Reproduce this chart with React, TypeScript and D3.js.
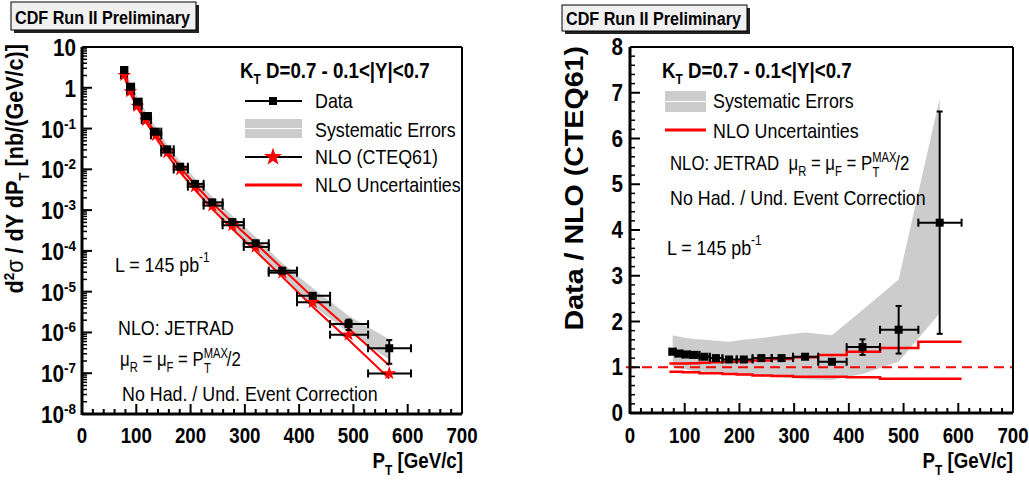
import React from 'react';
import * as d3 from 'd3';

// ---------------- data ----------------
const ptCenter = [78, 89, 102, 118, 136, 157, 181, 208, 240, 277, 320, 369, 425, 491, 566];
const ptLow = [72, 83, 96, 110, 127, 146, 169, 195, 224, 259, 298, 344, 396, 457, 527];
const ptHigh = [83, 96, 110, 127, 146, 169, 195, 224, 259, 298, 344, 396, 457, 527, 606];
const xsecData = [2.73, 1.06, 0.456, 0.203, 0.084, 0.031, 0.0116, 0.0044, 0.00155, 5.1e-4, 1.54e-4, 3.27e-5, 7.9e-6, 1.6e-6, 4.1e-7];
const xsecNLO = [2.04, 0.815, 0.356, 0.16, 0.0683, 0.0258, 0.00991, 0.00376, 0.00129, 4.25e-4, 1.25e-4, 2.92e-5, 5.49e-6, 8.8e-7, 9.9e-8];
const ratio = [1.34, 1.3, 1.28, 1.27, 1.23, 1.2, 1.17, 1.17, 1.2, 1.2, 1.23, 1.12, 1.44, 1.82, 4.16];
const ratioErr = [0.02, 0.02, 0.02, 0.02, 0.02, 0.02, 0.02, 0.02, 0.03, 0.03, 0.04, 0.05, 0.17, 0.52, 2.43];
const sysUp = [1.7, 1.67, 1.64, 1.62, 1.6, 1.58, 1.56, 1.6, 1.64, 1.7, 1.76, 1.7, 2.25, 2.92, 6.88];
const sysLow = [1.01, 0.98, 0.95, 0.92, 0.9, 0.87, 0.85, 0.82, 0.8, 0.78, 0.74, 0.72, 0.85, 1.12, 2.18];
const nloUp = [1.08, 1.08, 1.08, 1.09, 1.1, 1.11, 1.12, 1.13, 1.15, 1.18, 1.22, 1.27, 1.34, 1.42, 1.56];
const nloLow = [0.9, 0.9, 0.89, 0.89, 0.87, 0.87, 0.85, 0.84, 0.82, 0.81, 0.79, 0.79, 0.78, 0.75, 0.75];
const xTickValues = [0, 100, 200, 300, 400, 500, 600, 700];
const logExponents = [-8, -7, -6, -5, -4, -3, -2, -1, 0, 1];
const ratioTickValues = [0, 1, 2, 3, 4, 5, 6, 7, 8];

const FONT = 'Liberation Sans, Arial, Helvetica, sans-serif';
const SX = 0.85;
const GRAY = '#cccccc';
const RED = '#ff0000';

const idx = ptCenter.map((_, i) => i);

// ---------------- scales ----------------
const xL = d3.scaleLinear().domain([0, 700]).range([82, 462]);
const yL = d3.scaleLog().domain([1e-8, 10]).range([414, 47]);
const xR = d3.scaleLinear().domain([0, 700]).range([630, 1013]);
const yR = d3.scaleLinear().domain([0, 8]).range([413, 47]);

type TP = { x: number; y: number; size?: number; bold?: boolean; anchor?: string; rotate?: number; fill?: string; children?: React.ReactNode; sx?: number };
const Txt = ({ x, y, size = 21, bold = false, anchor = 'start', rotate, fill = '#000', children, sx = SX }: TP) => (
  <text
    transform={`translate(${x},${y})${rotate ? ` rotate(${rotate})` : ''} scale(${sx},1)`}
    fontFamily={FONT}
    fontSize={size}
    fontWeight={bold ? 'bold' : 'normal'}
    textAnchor={anchor as any}
    fill={fill}
  >
    {children}
  </text>
);

const starPath = d3.symbol().type(d3.symbolStar).size(60)() as string;

const HErr = ({ x0, x1, y, cap = 4 }: { x0: number; x1: number; y: number; cap?: number }) => (
  <g stroke="#000" strokeWidth={2}>
    <line x1={x0} x2={x1} y1={y} y2={y} />
    <line x1={x0} x2={x0} y1={y - cap} y2={y + cap} />
    <line x1={x1} x2={x1} y1={y - cap} y2={y + cap} />
  </g>
);
const VErr = ({ x, y0, y1, cap = 3 }: { x: number; y0: number; y1: number; cap?: number }) => (
  <g stroke="#000" strokeWidth={2}>
    <line x1={x} x2={x} y1={y0} y2={y1} />
    {Math.abs(y1 - y0) > 6 && <line x1={x - cap} x2={x + cap} y1={y0} y2={y0} />}
    {Math.abs(y1 - y0) > 6 && <line x1={x - cap} x2={x + cap} y1={y1} y2={y1} />}
  </g>
);

const Box = ({ x, y, w, h, label }: { x: number; y: number; w: number; h: number; label: string }) => (
  <g>
    <rect x={x + 3} y={y + 3} width={w} height={h} fill="#222" />
    <rect x={x} y={y} width={w} height={h} fill="#f0f0f0" stroke="#000" strokeWidth={1} />
    <Txt x={x + 4} y={y + h - 6} size={19} bold>{label}</Txt>
  </g>
);

const XAxis = ({ x, y0 }: { x: d3.ScaleLinear<number, number>; y0: number }) => {
  const minors = d3.range(0, 701, 20).filter((v) => v % 100 !== 0);
  return (
    <g>
      <line x1={x(0)} x2={x(700)} y1={y0} y2={y0} stroke="#000" strokeWidth={3} />
      {xTickValues.map((v) => (
        <line key={'M' + v} x1={x(v)} x2={x(v)} y1={y0} y2={y0 - 10} stroke="#000" strokeWidth={2} />
      ))}
      {minors.map((v) => (
        <line key={'m' + v} x1={x(v)} x2={x(v)} y1={y0} y2={y0 - 5} stroke="#000" strokeWidth={2} />
      ))}
      {xTickValues.map((v) => (
        <Txt key={'L' + v} x={x(v)} y={443} size={22} bold anchor="middle">{String(v)}</Txt>
      ))}
    </g>
  );
};

const MuLine = () => (
  <>
    μ<tspan fontSize={14} dy={6}>R</tspan>
    <tspan dy={-6}> = μ</tspan>
    <tspan fontSize={14} dy={6}>F</tspan>
    <tspan dy={-6}> = P</tspan>
    <tspan fontSize={14} dy={-8}>MAX</tspan>
    <tspan fontSize={14} dx={-30} dy={15}>T</tspan>
    <tspan dx={20} dy={-7}>/2</tspan>
  </>
);

const LeftPanel = () => {
  const band = d3
    .area<number>()
    .x((i) => xL(ptCenter[i]))
    .y0((i) => yL(xsecNLO[i] * sysLow[i]))
    .y1((i) => yL(xsecNLO[i] * sysUp[i]))(idx) as string;
  const lineUp = d3.line<number>().x((i) => xL(ptCenter[i])).y((i) => yL(xsecNLO[i] * nloUp[i]))(idx) as string;
  const lineLow = d3.line<number>().x((i) => xL(ptCenter[i])).y((i) => yL(xsecNLO[i] * nloLow[i]))(idx) as string;
  const minorLog: number[] = [];
  for (let e = -8; e < 1; e++) for (let k = 2; k <= 9; k++) minorLog.push(k * Math.pow(10, e));
  const left = xL(0);
  return (
    <g>
      <path d={band} fill={GRAY} />
      <path d={lineUp} fill="none" stroke={RED} strokeWidth={2} />
      <path d={lineLow} fill="none" stroke={RED} strokeWidth={2} />
      {idx.map((i) => (
        <g key={'n' + i}>
          <HErr x0={xL(ptLow[i])} x1={xL(ptHigh[i])} y={yL(xsecNLO[i])} />
          <path d={starPath} transform={`translate(${xL(ptCenter[i])},${yL(xsecNLO[i])})`} fill={RED} />
        </g>
      ))}
      {idx.map((i) => {
        const rel = ratioErr[i] / ratio[i];
        const cx = xL(ptCenter[i]);
        const cy = yL(xsecData[i]);
        return (
          <g key={'d' + i}>
            <HErr x0={xL(ptLow[i])} x1={xL(ptHigh[i])} y={cy} />
            <VErr x={cx} y0={yL(xsecData[i] * (1 + rel))} y1={yL(xsecData[i] * (1 - rel))} />
            <rect x={cx - 4} y={cy - 4} width={8} height={8} fill="#000" />
          </g>
        );
      })}
      {/* frame */}
      <line x1={left} x2={xL(700)} y1={47} y2={47} stroke="#000" strokeWidth={2} />
      <line x1={xL(700)} x2={xL(700)} y1={47} y2={414} stroke="#000" strokeWidth={2} />
      <line x1={left} x2={left} y1={47} y2={415} stroke="#000" strokeWidth={3} />
      {logExponents.map((e) => (
        <line key={'M' + e} x1={left} x2={left + 10} y1={yL(Math.pow(10, e))} y2={yL(Math.pow(10, e))} stroke="#000" strokeWidth={2} />
      ))}
      {minorLog.map((v, j) => (
        <line key={'m' + j} x1={left} x2={left + 5} y1={yL(v)} y2={yL(v)} stroke="#000" strokeWidth={1.5} />
      ))}
      {logExponents.map((e) => {
        const y = yL(Math.pow(10, e)) + 9;
        if (e === 1) return <Txt key={'L' + e} x={76} y={y} size={23} sx={0.9} bold anchor="end">10</Txt>;
        if (e === 0) return <Txt key={'L' + e} x={76} y={y} size={23} sx={0.9} bold anchor="end">1</Txt>;
        return (
          <Txt key={'L' + e} x={76} y={y} size={23} sx={0.9} bold anchor="end">
            10<tspan fontSize={15} dy={-9}>{String(e)}</tspan>
          </Txt>
        );
      })}
      <XAxis x={xL} y0={414} />
      {/* axis titles */}
      <Txt x={23} y={44} size={24} sx={0.9} bold anchor="end" rotate={-90}>
        d<tspan fontSize={15} dy={-9}>2</tspan>
        <tspan dy={9} fontWeight="normal">σ</tspan> / dY dP<tspan fontSize={15} dy={6}>T</tspan>
        <tspan dy={-6}> [nb/(GeV/c)]</tspan>
      </Txt>
      <Txt x={463} y={468} size={22} bold anchor="end">
        P<tspan fontSize={14} dy={7}>T</tspan>
        <tspan dy={-7}> [GeV/c]</tspan>
      </Txt>
      {/* header & legend */}
      <Txt x={240} y={78} size={22} bold>
        K<tspan fontSize={14} dy={6}>T</tspan>
        <tspan dy={-6}> D=0.7 - 0.1&lt;|Y|&lt;0.7</tspan>
      </Txt>
      <g>
        <line x1={245} x2={302} y1={101} y2={101} stroke="#000" strokeWidth={2} />
        <rect x={269} y={97} width={8} height={8} fill="#000" />
        <Txt x={315} y={108}>Data</Txt>
        <rect x={245} y={119} width={57} height={19} fill={GRAY} />
        <line x1={245} x2={302} y1={128.5} y2={128.5} stroke="#fff" strokeWidth={1} />
        <Txt x={315} y={137}>Systematic Errors</Txt>
        <line x1={245} x2={302} y1={157} y2={157} stroke="#000" strokeWidth={2} />
        <path d={starPath} transform="translate(273,157) scale(1.3)" fill={RED} />
        <Txt x={315} y={164}>NLO (CTEQ61)</Txt>
        <line x1={245} x2={302} y1={185} y2={185} stroke={RED} strokeWidth={3} />
        <Txt x={315} y={192}>NLO Uncertainties</Txt>
      </g>
      <Txt x={115} y={272} size={21}>
        L = 145 pb<tspan fontSize={14} dy={-10}>-1</tspan>
      </Txt>
      <Txt x={118} y={335} size={21}>NLO: JETRAD</Txt>
      <Txt x={120} y={366} size={21} sx={0.8}>
        <MuLine />
      </Txt>
      <Txt x={122} y={401} size={21}>No Had. / Und. Event Correction</Txt>
    </g>
  );
};

const RightPanel = () => {
  const band = d3
    .area<number>()
    .x((i) => xR(ptCenter[i]))
    .y0((i) => yR(sysLow[i]))
    .y1((i) => yR(sysUp[i]))(idx) as string;
  const stepPts = (arr: number[]) => idx.flatMap((i) => [[ptLow[i], arr[i]], [ptHigh[i], arr[i]]] as [number, number][]);
  const stepLine = d3.line<[number, number]>().x((d) => xR(d[0])).y((d) => yR(d[1]));
  const left = xR(0);
  const minors = d3.range(0, 8.001, 0.2).map((v) => Math.round(v * 10) / 10).filter((v) => Math.abs(v - Math.round(v)) > 1e-6);
  return (
    <g>
      <path d={band} fill={GRAY} />
      <path d={stepLine(stepPts(nloUp)) as string} fill="none" stroke={RED} strokeWidth={2.5} />
      <path d={stepLine(stepPts(nloLow)) as string} fill="none" stroke={RED} strokeWidth={2.5} />
      <line x1={xR(0) - 4} x2={xR(700)} y1={yR(1)} y2={yR(1)} stroke={RED} strokeWidth={2} strokeDasharray="10,6" />
      {idx.map((i) => {
        const cx = xR(ptCenter[i]);
        const cy = yR(ratio[i]);
        return (
          <g key={'r' + i}>
            <HErr x0={xR(ptLow[i])} x1={xR(ptHigh[i])} y={cy} />
            <VErr x={cx} y0={yR(ratio[i] + ratioErr[i])} y1={yR(ratio[i] - ratioErr[i])} />
            <rect x={cx - 4} y={cy - 4} width={8} height={8} fill="#000" />
          </g>
        );
      })}
      <line x1={left} x2={xR(700)} y1={47} y2={47} stroke="#000" strokeWidth={2} />
      <line x1={xR(700)} x2={xR(700)} y1={47} y2={413} stroke="#000" strokeWidth={2} />
      <line x1={left} x2={left} y1={47} y2={414} stroke="#000" strokeWidth={3} />
      {ratioTickValues.map((v) => (
        <line key={'M' + v} x1={left} x2={left + 10} y1={yR(v)} y2={yR(v)} stroke="#000" strokeWidth={2} />
      ))}
      {minors.map((v) => (
        <line key={'m' + v} x1={left} x2={left + 5} y1={yR(v)} y2={yR(v)} stroke="#000" strokeWidth={1.5} />
      ))}
      {ratioTickValues.map((v) => (
        <Txt key={'L' + v} x={623} y={yR(v) + 8} size={23} sx={0.9} bold anchor="end">{String(v)}</Txt>
      ))}
      <XAxis x={xR} y0={413} />
      <Txt x={583} y={46} size={26} sx={1.1} bold anchor="end" rotate={-90}>Data / NLO (CTEQ61)</Txt>
      <Txt x={1013} y={468} size={22} bold anchor="end">
        P<tspan fontSize={14} dy={7}>T</tspan>
        <tspan dy={-7}> [GeV/c]</tspan>
      </Txt>
      <Txt x={662} y={78} size={22} bold>
        K<tspan fontSize={14} dy={6}>T</tspan>
        <tspan dy={-6}> D=0.7 - 0.1&lt;|Y|&lt;0.7</tspan>
      </Txt>
      <rect x={665} y={91} width={41} height={21} fill={GRAY} />
      <line x1={665} x2={706} y1={101.5} y2={101.5} stroke="#fff" strokeWidth={1} />
      <Txt x={713} y={108}>Systematic Errors</Txt>
      <line x1={665} x2={706} y1={130} y2={130} stroke={RED} strokeWidth={3} />
      <Txt x={713} y={138}>NLO Uncertainties</Txt>
      <Txt x={670} y={170} sx={0.8}>
        NLO: JETRAD{'\u00a0\u00a0'}<MuLine />
      </Txt>
      <Txt x={670} y={205}>No Had. / Und. Event Correction</Txt>
      <Txt x={667} y={255}>
        L = 145 pb<tspan fontSize={14} dy={-10}>-1</tspan>
      </Txt>
    </g>
  );
};

export default function App() {
  return (
    <svg width={1029} height={489} style={{ position: 'absolute', left: 0, top: 0, background: '#fff' }}>
      <rect x={0} y={0} width={1029} height={489} fill="#fff" />
      <Box x={11} y={2} w={185} h={28} label="CDF Run II Preliminary" />
      <Box x={562} y={5} w={185} h={26} label="CDF Run II Preliminary" />
      <LeftPanel />
      <RightPanel />
    </svg>
  );
}
